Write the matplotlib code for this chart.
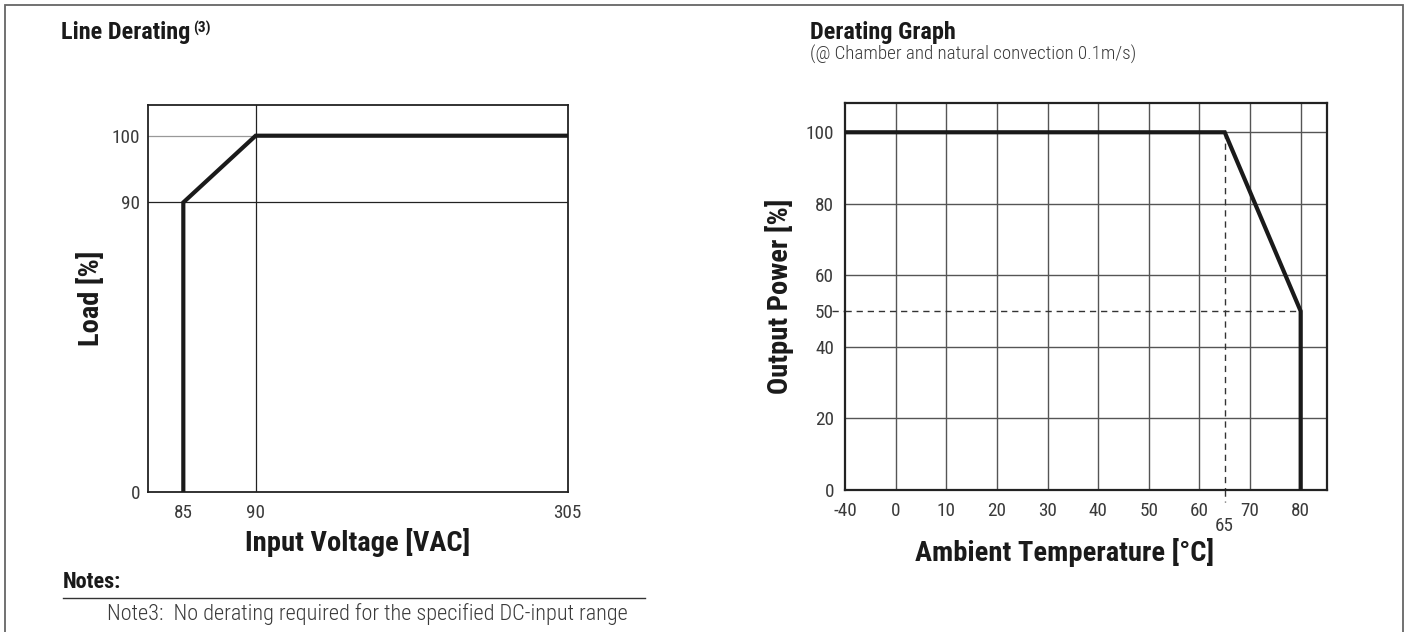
import numpy as np
import matplotlib
matplotlib.use("Agg")
import matplotlib.pyplot as plt
from matplotlib.patches import Rectangle
from matplotlib import transforms

plt.rcParams['font.family'] = ['Roboto Condensed', 'DejaVu Sans']

# ---------------- data ----------------
volt_x = [85, 85, 90, 305]          # Input voltage [VAC]
load_y = [0, 90, 100, 100]          # Load [%]
volt_ticks = [85, 90, 305]
load_ticks = [0, 90, 100]

temp_x = [-40, 65, 80, 80]          # Ambient temperature [°C]
power_y = [100, 100, 50, 0]         # Output power [%]
temp_ticks = [-40, 0, 10, 20, 30, 40, 50, 60, 70, 80]
temp_grid = [0, 10, 20, 30, 40, 50, 60, 70, 80]
power_ticks = [0, 20, 40, 50, 60, 80, 100]
power_grid = [20, 40, 60, 80, 100]
knee_temp = 65
knee_power = 50

# ---------------- helpers ----------------
def piecewise(xp, fp):
    xp = np.asarray(xp, float)
    fp = np.asarray(fp, float)

    def make(a, b):
        def f(v):
            v = np.asarray(v, float)
            out = np.interp(v, a, b)
            lo_s = (b[1] - b[0]) / (a[1] - a[0])
            hi_s = (b[-1] - b[-2]) / (a[-1] - a[-2])
            out = np.where(v < a[0], b[0] + (v - a[0]) * lo_s, out)
            out = np.where(v > a[-1], b[-1] + (v - a[-1]) * hi_s, out)
            return out
        return f
    return make(xp, fp), make(fp, xp)

W, H = 1409, 632
fig = plt.figure(figsize=(W / 100, H / 100), dpi=100)

def px_rect(l, t, r, b):
    return [l / W, 1 - b / H, (r - l) / W, (b - t) / H]

TICK_FS = 13.8
LABEL_FS = 20.5
TITLE_FS = 17.5
tick_col = '#3a3a3a'
ink = '#1a1a1a'
TW = 'normal'

# frame
fig.add_artist(Rectangle((5 / W, -0.02), (1403 - 5) / W, 1.02 - 5 / H,
                         transform=fig.transFigure, fill=False,
                         edgecolor='#666666', linewidth=1.3))

# ---------------- left chart ----------------
ax1 = fig.add_axes(px_rect(148.3, 105, 567.7, 491.7))
ax1.set_xscale('function', functions=piecewise([80, 85, 90, 305], [0, 0.0835, 0.256, 1]))
ax1.set_yscale('function', functions=piecewise([0, 90, 100, 104.6], [0, 0.748, 0.9206, 1]))
ax1.set_xlim(80, 305)
ax1.set_ylim(0, 104.6)
ax1.set_xticks(volt_ticks)
ax1.set_yticks(load_ticks)
ax1.set_xticklabels([str(v) for v in volt_ticks], fontweight=TW)
ax1.set_yticklabels([str(v) for v in load_ticks], fontweight=TW)
ax1.tick_params(axis='both', length=0, labelsize=TICK_FS, labelcolor=tick_col)
ax1.tick_params(axis='x', pad=8.5)
ax1.tick_params(axis='y', pad=6)
ax1.axvline(volt_ticks[1], color='#222222', lw=0.9, zorder=1)
ax1.axhline(load_ticks[1], color='#222222', lw=0.9, zorder=1)
ax1.axhline(load_ticks[2], color='#999999', lw=0.9, zorder=1)
ax1.plot(volt_x, load_y, color=ink, lw=3.0, solid_joinstyle='miter', zorder=3)
for s in ax1.spines.values():
    s.set_linewidth(1.3)
    s.set_color('#222222')
ax1.set_xlabel('Input Voltage [VAC]', fontsize=LABEL_FS, fontweight='bold', color=ink)
ax1.set_ylabel('Load [%]', fontsize=LABEL_FS, fontweight='bold', color=ink)
ax1.xaxis.set_label_coords(0.5, -0.094)
ax1.yaxis.set_label_coords(-0.104, 0.5)

fig.text(61 / W, 1 - 39 / H, 'Line Derating', fontsize=TITLE_FS, fontweight='bold',
         color=ink, ha='left', va='baseline')
fig.text(193 / W, 1 - 33 / H, '(3)', fontsize=11, fontweight='bold',
         color=ink, ha='left', va='baseline')

# notes
fig.text(63 / W, 1 - 588 / H, 'Notes:', fontsize=16, fontweight='bold',
         color=ink, ha='left', va='baseline')
fig.add_artist(plt.Line2D([63 / W, 645 / W], [1 - 598 / H, 1 - 598 / H],
                          transform=fig.transFigure, color='#333333', lw=1.0))
fig.text(107 / W, 1 - 620 / H, 'Note3:  No derating required for the specified DC-input range',
         fontsize=16, fontweight='light', color=tick_col, ha='left', va='baseline')

# ---------------- right chart ----------------
ax2 = fig.add_axes(px_rect(845, 103.3, 1327, 490))
ax2.set_xscale('function', functions=piecewise([-40, 0, 85.2], [-10, 0, 85.2]))
ax2.set_xlim(-40, 85.2)
ax2.set_ylim(0, 108.1)
ax2.set_xticks(temp_ticks)
ax2.set_xticklabels([str(v) for v in temp_ticks], fontweight=TW)
ax2.set_yticks(power_ticks)
ax2.set_yticklabels([str(v) for v in power_ticks], fontweight=TW)
ax2.set_xticks([knee_temp], minor=True)
ax2.set_xticklabels([str(knee_temp)], minor=True, fontweight=TW)
ax2.tick_params(axis='both', which='both', length=0, labelsize=TICK_FS, labelcolor=tick_col)
ax2.tick_params(axis='x', which='major', pad=8.5)
ax2.tick_params(axis='x', which='minor', pad=19.5)
ax2.tick_params(axis='y', pad=8)
for v in temp_grid:
    ax2.axvline(v, color='#555555', lw=1.0, zorder=1)
for v in power_grid:
    ax2.axhline(v, color='#555555', lw=1.0, zorder=1)

dash = dict(color='#333333', lw=1.0, dashes=(4.5, 3.5))
ax2.plot([temp_x[0], temp_x[2]], [knee_power, knee_power], zorder=2, **dash)
blend = transforms.blended_transform_factory(ax2.transAxes, ax2.transData)
ax2.plot([-0.027, 0], [knee_power, knee_power], transform=blend, clip_on=False, **dash)
ax2.plot([knee_temp, knee_temp], [power_y[0], power_y[-1]], zorder=2, **dash)
blend2 = transforms.blended_transform_factory(ax2.transData, ax2.transAxes)
ax2.plot([knee_temp, knee_temp], [0, -0.03], transform=blend2, clip_on=False, **dash)

ax2.plot(temp_x, power_y, color=ink, lw=3.0, solid_joinstyle='miter', zorder=3)
for s in ax2.spines.values():
    s.set_linewidth(1.6)
    s.set_color('#222222')
ax2.set_xlabel('Ambient Temperature [°C]', fontsize=LABEL_FS, fontweight='bold', color=ink)
ax2.set_ylabel('Output Power [%]', fontsize=LABEL_FS, fontweight='bold', color=ink)
ax2.xaxis.set_label_coords(0.456, -0.125)
ax2.yaxis.set_label_coords(-0.106, 0.5)

fig.text(810 / W, 1 - 39 / H, 'Derating Graph', fontsize=TITLE_FS, fontweight='bold',
         color=ink, ha='left', va='baseline')
fig.text(810 / W, 1 - 60 / H, '(@ Chamber and natural convection 0.1m/s)', fontsize=13.7,
         fontweight='light', color=tick_col, ha='left', va='baseline')

fig.savefig('out.png', dpi=100)
